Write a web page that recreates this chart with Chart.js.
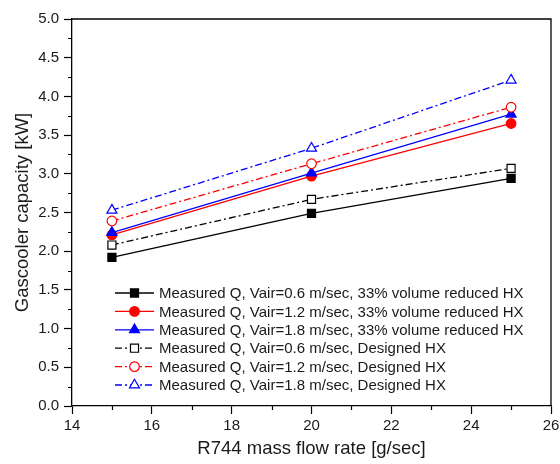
<!DOCTYPE html>
<html>
<head>
<meta charset="utf-8">
<script src="https://cdn.jsdelivr.net/npm/chart.js@4/dist/chart.umd.min.js"></script>
<style>
    html, body { margin: 0; padding: 0; background: #ffffff; }
    #wrap { width: 560px; height: 464px; }
</style>
</head>
<body>
<div id="wrap"><canvas id="myChart" width="560" height="464"></canvas></div>
<script>
// R744 mass flow rate [g/sec]
const massFlow = [15, 20, 25];

// Gascooler capacity [kW]
const q06Reduced = [1.92, 2.49, 2.94];
const q12Reduced = [2.21, 2.97, 3.65];
const q18Reduced = [2.24, 3.01, 3.77];
const q06Designed = [2.08, 2.67, 3.07];
const q12Designed = [2.39, 3.13, 3.86];
const q18Designed = [2.53, 3.33, 4.21];

const seriesLabels = [
    'Measured Q, Vair=0.6 m/sec, 33% volume reduced HX',
    'Measured Q, Vair=1.2 m/sec, 33% volume reduced HX',
    'Measured Q, Vair=1.8 m/sec, 33% volume reduced HX',
    'Measured Q, Vair=0.6 m/sec, Designed HX',
    'Measured Q, Vair=1.2 m/sec, Designed HX',
    'Measured Q, Vair=1.8 m/sec, Designed HX'
];

const xTicks = [14, 16, 18, 20, 22, 24, 26];
const yTicks = [0, 0.5, 1, 1.5, 2, 2.5, 3, 3.5, 4, 4.5, 5];

const FONT = '"Liberation Sans", Arial, sans-serif';
const dashDot = [7, 3, 2, 3];

function pairs(values) {
    return massFlow.map(function(x, i) { return {x: x, y: values[i]}; });
}

function makeSet(label, values, color, style, radius, filled, dashed, i) {
    return {
        label: label,
        data: pairs(values),
        borderColor: color,
        backgroundColor: filled ? color : '#ffffff',
        borderWidth: 1.3,
        borderDash: dashed ? dashDot : [],
        pointStyle: style,
        pointRadius: radius,
        pointBorderColor: color,
        pointBackgroundColor: filled ? color : '#ffffff',
        pointBorderWidth: 1.2,
        tension: 0,
        order: 10 - i
    };
}

const datasets = [
    makeSet(seriesLabels[0], q06Reduced, '#000000', 'rect', 5.7, true, false, 0),
    makeSet(seriesLabels[1], q12Reduced, '#ff0000', 'circle', 4.8, true, false, 1),
    makeSet(seriesLabels[2], q18Reduced, '#0000ff', 'triangle', 5.8, true, false, 2),
    makeSet(seriesLabels[3], q06Designed, '#000000', 'rect', 5.7, false, true, 3),
    makeSet(seriesLabels[4], q12Designed, '#ff0000', 'circle', 4.8, false, true, 4),
    makeSet(seriesLabels[5], q18Designed, '#0000ff', 'triangle', 5.8, false, true, 5)
];

function drawMarker(ctx, ds, x, y) {
    ctx.save();
    ctx.setLineDash([]);
    ctx.fillStyle = ds.pointBackgroundColor;
    ctx.strokeStyle = ds.pointBorderColor;
    ctx.lineWidth = ds.pointBorderWidth;
    Chart.helpers.drawPoint(ctx, {
        pointStyle: ds.pointStyle,
        rotation: 0,
        radius: ds.pointRadius,
        borderWidth: ds.pointBorderWidth
    }, x, y);
    ctx.restore();
}

// frame, minor ticks and the legend with line + marker samples
const extras = {
    id: 'extras',
    afterDraw: function(chart) {
        const ctx = chart.ctx;
        const a = chart.chartArea;
        const xs = chart.scales.x;
        const ys = chart.scales.y;
        ctx.save();
        ctx.strokeStyle = '#000000';
        ctx.lineWidth = 1.3;
        ctx.beginPath();
        ctx.moveTo(a.left, a.top);
        ctx.lineTo(a.right, a.top);
        ctx.lineTo(a.right, a.bottom);
        ctx.stroke();

        ctx.lineWidth = 1.2;
        ctx.beginPath();
        for (let i = 0; i < xTicks.length - 1; i++) {
            let px = Math.round(xs.getPixelForValue((xTicks[i] + xTicks[i + 1]) / 2)) + 0.5;
            ctx.moveTo(px, a.bottom);
            ctx.lineTo(px, a.bottom + 4);
        }
        for (let i = 0; i < yTicks.length - 1; i++) {
            let py = Math.round(ys.getPixelForValue((yTicks[i] + yTicks[i + 1]) / 2)) + 0.5;
            ctx.moveTo(a.left, py);
            ctx.lineTo(a.left - 4, py);
        }
        ctx.stroke();

        // legend
        ctx.font = '15px ' + FONT;
        ctx.textBaseline = 'middle';
        ctx.textAlign = 'left';
        const rowY0 = a.bottom - 113;
        const rowStep = 18.4;
        for (let i = 0; i < chart.data.datasets.length; i++) {
            let ds = chart.data.datasets[i];
            let y = rowY0 + i * rowStep;
            let x0 = a.left + 43;
            let x1 = a.left + 82;
            ctx.save();
            ctx.strokeStyle = ds.borderColor;
            ctx.lineWidth = ds.borderWidth;
            ctx.setLineDash(ds.borderDash);
            ctx.beginPath();
            ctx.moveTo(x0, y);
            ctx.lineTo(x1, y);
            ctx.stroke();
            ctx.restore();
            drawMarker(ctx, ds, (x0 + x1) / 2, y);
            ctx.fillStyle = '#1a1a1a';
            ctx.fillText(ds.label, a.left + 87, y + 1);
        }
        ctx.restore();
    }
};

const ctx = document.getElementById('myChart').getContext('2d');
new Chart(ctx, {
    type: 'line',
    data: { datasets: datasets },
    options: {
        responsive: false,
        animation: false,
        devicePixelRatio: 1,
        layout: { padding: { top: 19, right: 9, left: 0, bottom: 0 } },
        plugins: {
            legend: { display: false },
            tooltip: { enabled: false },
            title: { display: false }
        },
        scales: {
            x: {
                type: 'linear',
                min: 14,
                max: 26,
                afterBuildTicks: function(scale) {
                    scale.ticks = xTicks.map(function(v) { return {value: v}; });
                },
                afterFit: function(scale) {
                    scale.height = 58;
                    scale.paddingLeft = 0;
                    scale.paddingRight = 0;
                },
                ticks: {
                    color: '#1a1a1a',
                    font: { family: FONT, size: 15 },
                    padding: 3,
                    maxRotation: 0,
                    callback: function(v) { return String(v); }
                },
                grid: {
                    drawOnChartArea: false,
                    tickLength: 8,
                    tickColor: '#000000',
                    tickWidth: 1.2
                },
                border: { color: '#000000', width: 1.3 },
                title: {
                    display: true,
                    text: 'R744 mass flow rate [g/sec]',
                    color: '#1a1a1a',
                    font: { family: FONT, size: 18.5 },
                    padding: { top: 4, bottom: 4 }
                }
            },
            y: {
                type: 'linear',
                min: 0,
                max: 5,
                afterBuildTicks: function(scale) {
                    scale.ticks = yTicks.map(function(v) { return {value: v}; });
                },
                afterFit: function(scale) { scale.width = 72; },
                ticks: {
                    color: '#1a1a1a',
                    font: { family: FONT, size: 15 },
                    padding: 5,
                    callback: function(v) { return Number(v).toFixed(1); }
                },
                grid: {
                    drawOnChartArea: false,
                    tickLength: 8,
                    tickColor: '#000000',
                    tickWidth: 1.2
                },
                border: { color: '#000000', width: 1.3 },
                title: {
                    display: true,
                    text: 'Gascooler capacity [kW]',
                    color: '#1a1a1a',
                    font: { family: FONT, size: 18.5 },
                    padding: { top: 12, bottom: 0 }
                }
            }
        }
    },
    plugins: [extras]
});
</script>
</body>
</html>
